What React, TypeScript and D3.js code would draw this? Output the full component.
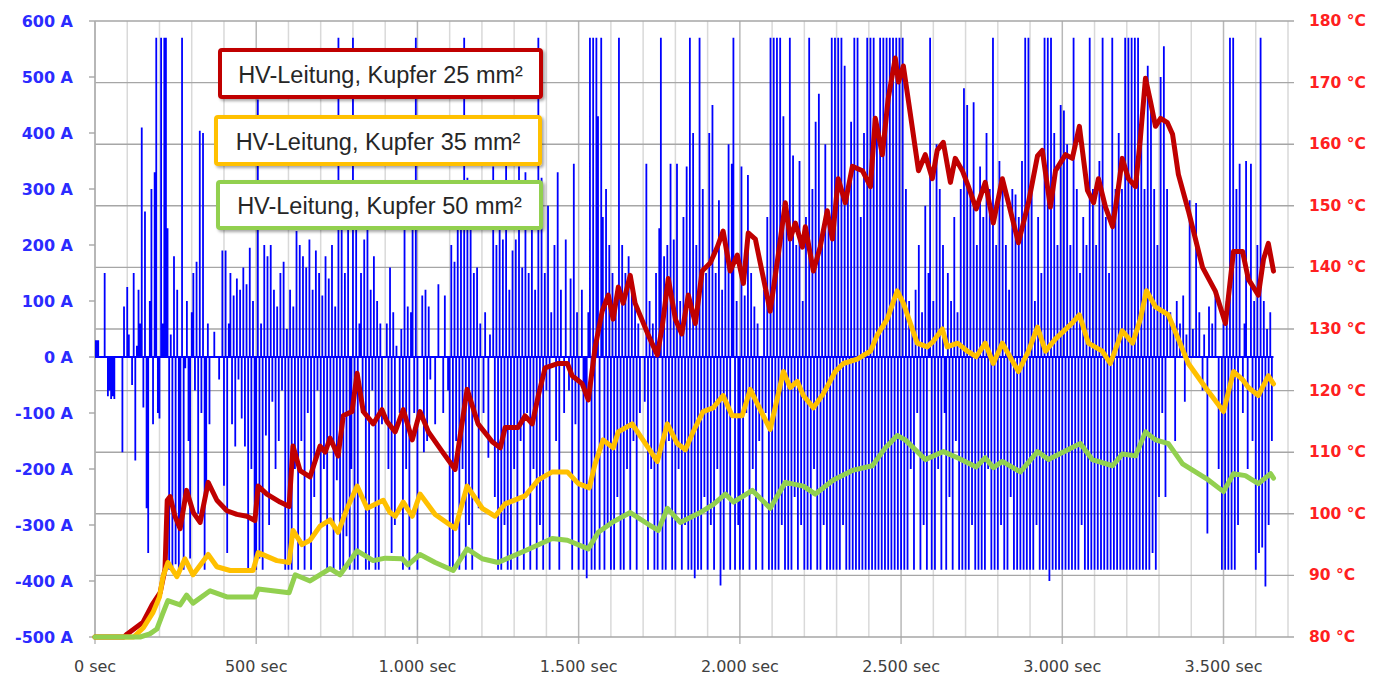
import React, { useEffect } from 'react';
import * as d3 from 'd3';

// ---------- DATA ----------
const timeTicks = [0, 500, 1000, 1500, 2000, 2500, 3000, 3500];
const timeTickLabels = ['0 sec', '500 sec', '1.000 sec', '1.500 sec', '2.000 sec', '2.500 sec', '3.000 sec', '3.500 sec'];
const currentTicks = [-500, -400, -300, -200, -100, 0, 100, 200, 300, 400, 500, 600];
const currentTickLabels = ['-500 A', '-400 A', '-300 A', '-200 A', '-100 A', '0 A', '100 A', '200 A', '300 A', '400 A', '500 A', '600 A'];
const tempTicks = [80, 90, 100, 110, 120, 130, 140, 150, 160, 170, 180];
const tempTickLabels = ['80 °C', '90 °C', '100 °C', '110 °C', '120 °C', '130 °C', '140 °C', '150 °C', '160 °C', '170 °C', '180 °C'];

const seriesLabels = ['HV-Leitung, Kupfer 25 mm²', 'HV-Leitung, Kupfer 35 mm²', 'HV-Leitung, Kupfer 50 mm²'];

// current samples (A), one every 5 s, starting at 0 s
const currentStepSec = 5;
const currentValues = [
  30, 30, 30, 0, 0, 0, 150, 0, -70, -60, -75, -70, -75, 0, 0, 0, 0, -170, 90, 0,
  125, 40, 0, -50, 150, -185, 20, 120, 60, 410, -90, 260, -270, -350, 100, 300, -120, 330, 570, -100,
  -110, 570, 60, 570, 570, 230, -380, 40, -380, 180, -370, 120, -380, -300, 570, -380, -20, 100, -150, -360,
  80, 150, -60, 170, -280, 404, -100, 400, -380, -250, 60, -120, 0, 0, 45, 0, 0, -40, 0, 190,
  -230, 190, -350, 60, 150, -120, 110, -160, 140, -40, 120, -110, 160, -160, 130, -380, 195, -200, 100, -380,
  -380, 460, -360, 60, -380, 200, -140, 180, -300, 200, -80, 120, -200, 90, -150, 150, -60, 170, -380, 50,
  -380, 120, -380, 90, -200, 225, -380, 200, -150, 180, -380, 160, -100, 210, -380, 120, -250, 190, -60, 150,
  -300, 110, -200, 180, -380, 140, -150, 200, -380, 90, -220, 570, -380, 260, -380, 150, -320, 300, -380, -200,
  570, -380, 240, -380, 60, 150, -100, 210, -380, 230, -380, 120, -60, 180, -380, 100, -380, 60, -120, 0,
  0, 60, -200, 160, -350, 80, -300, 20, 0, -100, 50, -380, 250, -200, 90, -380, 80, 270, -100, 570,
  -380, 0, 0, 110, -170, 120, -150, 90, -40, 0, 0, -120, 0, 130, 0, 0, -100, 110, 0, -60,
  -380, 200, -380, 170, -150, 240, -380, 300, -200, 570, -380, 320, -300, 230, -380, 150, -100, 160, -270, 60,
  0, -100, 80, 0, -180, 40, 0, 340, -250, 200, -380, 280, -380, 210, -300, 350, -380, 120, -380, 190,
  -200, 210, -380, 340, -150, 160, -380, 330, -100, 150, -380, 250, -200, 120, -380, 570, -300, 320, -380, 150,
  -60, 270, -380, 80, 0, 200, -150, 330, -380, 120, 0, -100, 210, 0, -60, 140, -380, 345, -120, 80,
  -380, 0, 120, -380, -60, -395, 80, 570, -380, 570, -380, 570, 430, -380, 570, 250, -380, 300, -300, 200,
  -380, 150, -380, 100, -250, 570, -380, 200, -380, 150, -200, 180, -380, 120, -150, 100, -380, 60, -100, 0,
  0, -80, 345, -380, 100, -200, 60, -380, 150, -380, 230, 570, -380, 180, -380, 200, -150, 345, -380, 210,
  -380, 345, -200, 100, -380, 250, -300, 340, -380, 570, -380, 400, -395, 200, -380, 570, -380, 300, -250, 150,
  -380, 400, -300, 450, -380, 150, -200, 280, -408, 120, -380, 200, -250, 380, -380, 345, 570, -380, 100, -300,
  -380, 340, -380, 110, -100, 325, -380, 150, -200, 90, -380, 60, -150, 0, -380, 120, -100, 250, -380, 570,
  -380, 570, -380, 570, -380, 570, -300, 430, -380, 260, -380, 570, -380, 360, -250, 200, -380, 350, -300, 100,
  -380, 250, -380, 570, -380, 300, -200, 420, -380, 470, -380, 200, -300, 380, -380, 250, -380, 570, -380, 570,
  -380, 570, -380, 570, -300, 520, -380, 300, -380, 420, -380, 570, -380, 570, -380, 250, -380, 400, -380, 570,
  -380, 570, -380, 570, -380, 400, -380, 570, -380, 570, -380, 570, -380, 570, -380, 570, -380, 570, -380, 570,
  -380, 570, -380, 300, -380, 100, -200, 50, -380, 120, -100, 200, -380, 80, -300, 270, -380, 150, 570, -380,
  100, -380, 380, -200, 300, -380, 200, -100, -380, 150, -250, 100, -380, 250, -150, 80, -380, 300, -380, 480,
  -380, 450, -380, 300, -300, 455, -380, 200, -380, 340, -380, 250, -380, 400, -200, 300, -380, 570, -380, 200,
  -380, 350, -300, 320, -380, 200, -380, 120, -250, 300, -380, 290, -380, 250, -380, 350, -380, 570, -380, 570,
  -380, 300, -380, 100, -300, 250, -380, 150, -380, 570, -380, 570, -400, 570, -380, 400, -380, 200, -380, 450,
  -380, 440, -380, 380, -380, 200, -380, 570, -380, 300, -380, 150, -300, 250, -380, 200, -380, 570, -380, 300,
  -380, 200, -380, 350, -380, 570, -380, 250, -380, 150, -380, 570, -380, 300, -380, 400, -380, 300, -380, 570,
  -380, 570, -380, 570, -380, 570, -380, 570, -380, 400, -380, 300, -380, 520, -380, 450, -350, 300, -380, 200,
  -250, 500, -100, 555, -250, 300, 0, 80, 0, 60, -150, 100, 0, 60, 0, 110, -80, 40, 0, 280,
  0, 50, 0, 275, 0, 80, 0, -60, 40, 0, -315, 90, 0, 60, 0, 110, 0, -200, 0, -380,
  60, -380, 100, -380, 570, -380, 570, -380, 300, -300, 345, 0, -100, 60, 350, -200, 0, 345, -150, 100,
  -380, 200, -350, 570, -340, 100, -410, 50, -300, 80, -150, 0,
];

// Temperature, 25 mm² (red)
const red25Times = [0, 90, 100, 149, 177, 202, 217, 224, 233, 248, 264, 284, 305, 326, 351, 378, 409, 440, 471, 496, 506, 533, 574, 602, 614, 636, 667, 698, 714, 729, 754, 770, 797, 813, 832, 863, 890, 905, 931, 956, 984, 1008, 1034, 1077, 1117, 1154, 1188, 1232, 1257, 1272, 1312, 1334, 1356, 1375, 1396, 1437, 1465, 1480, 1511, 1530, 1551, 1573, 1592, 1607, 1623, 1638, 1660, 1675, 1716, 1744, 1759, 1778, 1800, 1820, 1840, 1862, 1883, 1908, 1930, 1948, 1970, 1992, 2011, 2026, 2048, 2094, 2119, 2141, 2156, 2172, 2194, 2203, 2228, 2249, 2271, 2287, 2305, 2327, 2349, 2380, 2405, 2420, 2442, 2460, 2482, 2492, 2507, 2529, 2554, 2575, 2597, 2612, 2631, 2653, 2668, 2690, 2709, 2733, 2761, 2786, 2814, 2864, 2895, 2923, 2938, 2963, 2979, 3010, 3031, 3053, 3078, 3097, 3112, 3134, 3156, 3171, 3186, 3205, 3227, 3242, 3258, 3274, 3289, 3305, 3326, 3342, 3360, 3391, 3435, 3475, 3506, 3531, 3559, 3577, 3608, 3624, 3639, 3655];
const red25Temps = [80, 80, 80.5, 82.4, 85.2, 87.2, 91, 102.2, 102.8, 99.6, 97.6, 103.8, 100.2, 98.6, 105.1, 102.2, 100.5, 99.9, 99.6, 98.9, 104.5, 103.2, 101.9, 101.2, 111, 107, 106, 111, 110, 112.3, 109.4, 115.9, 116.6, 122.8, 116.6, 114.6, 116.9, 115, 113.3, 116.9, 112, 116.6, 113.3, 110.1, 107.2, 120.2, 114.6, 111.7, 110.7, 114, 114, 115.9, 114.6, 119.2, 123.7, 124.4, 124.4, 122.4, 121.1, 118.5, 127, 132.9, 135.5, 131.6, 136.8, 134.2, 138.7, 134.2, 129, 125.8, 130.3, 138.2, 131.6, 129.2, 135.5, 130.9, 139.4, 140.7, 143.3, 145.9, 139.4, 142, 137.4, 145.6, 144.6, 132.9, 142, 150.5, 144.6, 147.2, 143.3, 146.6, 139.4, 143.3, 149.2, 144.6, 154.4, 150.5, 156.4, 155.7, 153.1, 164.2, 158.3, 167.4, 174, 170.1, 172.7, 164.8, 155.7, 158.3, 154.4, 159, 160.3, 153.8, 157.7, 155.7, 153.1, 149.5, 153.8, 147.2, 154.4, 144, 150.5, 158.1, 159, 149.8, 155.7, 158.3, 157.7, 162.9, 152.5, 150.5, 154.4, 149.8, 146.6, 151.8, 157.7, 154.4, 153.1, 160.9, 170.7, 166.8, 162.9, 164.2, 163.5, 161.6, 155.1, 149.2, 140, 136.1, 130.9, 142.6, 142.6, 138.1, 135.5, 141.3, 143.9, 139.4];

// Temperature, 35 mm² (orange)
const orange35Times = [0, 120, 150, 180, 200, 211, 226, 254, 279, 304, 351, 378, 419, 490, 506, 564, 602, 614, 642, 667, 698, 729, 754, 782, 813, 844, 894, 915, 931, 956, 984, 1008, 1055, 1117, 1154, 1201, 1241, 1272, 1334, 1375, 1418, 1465, 1499, 1533, 1551, 1576, 1607, 1623, 1666, 1716, 1744, 1775, 1806, 1831, 1855, 1886, 1917, 1948, 1976, 2007, 2032, 2094, 2135, 2156, 2178, 2197, 2228, 2259, 2296, 2321, 2364, 2405, 2426, 2457, 2488, 2507, 2550, 2581, 2600, 2628, 2643, 2675, 2706, 2733, 2761, 2786, 2814, 2864, 2895, 2923, 2948, 2979, 3031, 3053, 3081, 3124, 3149, 3186, 3218, 3242, 3261, 3289, 3329, 3391, 3444, 3500, 3531, 3559, 3577, 3608, 3639, 3655];
const orange35Temps = [80, 80, 81.5, 84, 86.5, 89.8, 92.1, 89.8, 92.7, 90.1, 93.4, 91.4, 90.8, 90.8, 93.7, 92.4, 92.1, 97.3, 95, 95.7, 98, 99, 97, 100.9, 104.5, 100.9, 102.2, 100.2, 99.6, 101.9, 99.6, 103.2, 99.9, 97.6, 104.5, 100.9, 99.6, 101.6, 102.9, 105.5, 106.8, 106.8, 104.9, 104.2, 108.1, 112, 110.7, 113.3, 114.6, 110.7, 108.5, 114.6, 111.4, 110.4, 113.3, 116.6, 117.2, 119.2, 115.9, 115.9, 120.2, 113.7, 123.1, 120.5, 121.5, 119.2, 117.2, 119.5, 123.1, 124.4, 125.1, 126.4, 129, 131.6, 136.2, 134.2, 127.7, 127.1, 128, 130, 127.1, 127.7, 126.4, 125.5, 127.7, 124.4, 127.7, 123.1, 126.4, 130.3, 126.4, 128.4, 131, 132.3, 127.7, 126.4, 124.4, 129.7, 127.7, 131.6, 136.2, 133.6, 132.3, 124.4, 120.5, 116.6, 123.1, 121.8, 120.5, 119.2, 122.4, 121.1];

// Temperature, 50 mm² (green)
const green50Times = [0, 140, 170, 192, 211, 226, 264, 284, 304, 357, 409, 496, 506, 602, 621, 667, 729, 760, 813, 863, 900, 953, 971, 1008, 1055, 1111, 1154, 1201, 1250, 1334, 1418, 1465, 1530, 1561, 1604, 1660, 1716, 1747, 1775, 1815, 1877, 1917, 1955, 1980, 2039, 2094, 2141, 2197, 2234, 2290, 2352, 2411, 2451, 2488, 2513, 2575, 2631, 2675, 2733, 2761, 2786, 2814, 2870, 2923, 2957, 3056, 3093, 3156, 3186, 3227, 3258, 3289, 3329, 3373, 3453, 3500, 3531, 3568, 3608, 3646, 3655];
const green50Temps = [80, 80, 80.5, 81.3, 83.9, 85.9, 85.2, 86.8, 85.5, 87.5, 86.5, 86.5, 87.8, 87.2, 90.1, 89.1, 91.1, 90.1, 94, 92.4, 92.8, 92.7, 91.7, 93.4, 92.1, 90.8, 94.3, 92.7, 92.1, 94, 96, 95.7, 94.3, 97, 98.6, 100.2, 98.3, 97.3, 100.9, 98.6, 100.2, 101.5, 103.2, 101.9, 103.8, 100.9, 105.1, 104.5, 103.2, 105.5, 107.1, 107.8, 110.7, 112.7, 112, 108.8, 110.1, 109.1, 107.6, 109.1, 107.5, 108.5, 106.8, 110.1, 108.8, 111.4, 108.8, 107.8, 109.7, 109.4, 113.3, 112, 111.4, 108.1, 105.5, 103.6, 106.5, 106.2, 104.9, 106.5, 105.8];

// ---------- STYLE ----------
const COLORS = { current: '#0000ff', red: '#c00000', orange: '#ffc000', green: '#92d050' };

export default function App() {
  useEffect(() => {
    document.body.style.margin = '0';
  }, []);

  const left = 95, right = 1288, top = 21, bottom = 637;
  const x = d3.scaleLinear().domain([0, 3700]).range([left, right]);
  const yA = d3.scaleLinear().domain([-500, 600]).range([bottom, top]);
  const yT = d3.scaleLinear().domain([80, 180]).range([bottom, top]);

  // current as stems from 0 plus baseline
  const stemPts: [number, number][] = [];
  currentValues.forEach((v, i) => {
    const t = i * currentStepSec;
    stemPts.push([t, 0], [t, v], [t, 0]);
  });
  const currentLine = d3.line<[number, number]>().x(d => x(d[0])).y(d => yA(d[1]));
  const currentPath = currentLine(stemPts) || '';

  const tLine = d3.line<[number, number]>().x(d => x(d[0])).y(d => yT(d[1])).curve(d3.curveLinear);
  const mk = (ts: number[], vs: number[]) => tLine(ts.map((t, i) => [t, vs[i]] as [number, number])) || '';
  const series = [
    { label: seriesLabels[0], color: COLORS.red, path: mk(red25Times, red25Temps) },
    { label: seriesLabels[1], color: COLORS.orange, path: mk(orange35Times, orange35Temps) },
    { label: seriesLabels[2], color: COLORS.green, path: mk(green50Times, green50Temps) },
  ];

  const minorX = d3.range(0, 3701, 100);
  const legendBoxes = [
    { x: 220, y: 50, w: 321, h: 47 },
    { x: 216, y: 117, w: 324, h: 47 },
    { x: 218, y: 182, w: 323, h: 46 },
  ];

  return (
    <svg width={1381} height={677} style={{ position: 'absolute', left: 0, top: 0, background: '#fff' }}
      fontFamily="'DejaVu Sans', sans-serif">
      <defs>
        <filter id="shadow" x="-10%" y="-30%" width="130%" height="170%">
          <feDropShadow dx="2" dy="2" stdDeviation="1.5" floodColor="#000" floodOpacity="0.35" />
        </filter>
        <clipPath id="plotClip">
          <rect x={left} y={top - 2} width={right - left} height={bottom - top + 4} />
        </clipPath>
      </defs>
      <rect x={0} y={0} width={1381} height={677} fill="#fff" />

      {/* vertical gridlines */}
      {minorX.map(t => (
        <line key={'vx' + t} x1={x(t)} x2={x(t)} y1={top} y2={t % 500 === 0 ? bottom + 7 : bottom}
          stroke={t % 500 === 0 ? '#b8b8b8' : '#d9d9d9'} strokeWidth={1.5} />
      ))}
      {/* horizontal gridlines (right axis) */}
      {tempTicks.map(v => (
        <line key={'hz' + v} x1={left} x2={right + 6} y1={yT(v)} y2={yT(v)} stroke="#a6a6a6" strokeWidth={1.4} />
      ))}
      {/* left axis */}
      <line x1={left} x2={left} y1={top} y2={bottom} stroke="#b0b0b0" strokeWidth={1.5} />
      {currentTicks.map(v => (
        <line key={'lt' + v} x1={left - 6} x2={left} y1={yA(v)} y2={yA(v)} stroke="#a6a6a6" strokeWidth={1.4} />
      ))}

      {/* current */}
      <g clipPath="url(#plotClip)">
        <path d={currentPath} fill="none" stroke={COLORS.current} strokeWidth={1.8} strokeLinejoin="miter" />
      </g>

      {/* temperatures */}
      {series.map(s => (
        <path key={s.label} d={s.path} fill="none" stroke={s.color} strokeWidth={5}
          strokeLinejoin="round" strokeLinecap="round" />
      ))}

      {/* legend */}
      {series.map((s, i) => {
        const b = legendBoxes[i];
        return (
          <g key={'lg' + i}>
            <rect x={b.x} y={b.y} width={b.w} height={b.h} fill="#fff" stroke={s.color} strokeWidth={4}
              rx={2} filter="url(#shadow)" />
            <text x={b.x + b.w / 2} y={b.y + b.h / 2 + 1} textAnchor="middle" dominantBaseline="central"
              fontFamily="'Liberation Sans', Arial, sans-serif" fontSize={23.5} fill="#262626">{s.label}</text>
          </g>
        );
      })}

      {/* left axis labels */}
      {currentTicks.map((v, i) => (
        <text key={'la' + v} x={73} y={yA(v)} textAnchor="end" dominantBaseline="central"
          fontSize={16} fontWeight="bold" fill="#2b2bff">{currentTickLabels[i]}</text>
      ))}
      {/* right axis labels */}
      {tempTicks.map((v, i) => (
        <text key={'ra' + v} x={1309} y={yT(v)} textAnchor="start" dominantBaseline="central"
          fontSize={15.5} fontWeight="bold" fill="#ff2020">{tempTickLabels[i]}</text>
      ))}
      {/* x axis labels */}
      {timeTicks.map((t, i) => (
        <text key={'xa' + t} x={x(t)} y={666} textAnchor="middle" dominantBaseline="central"
          fontSize={16} fill="#404040">{timeTickLabels[i]}</text>
      ))}
    </svg>
  );
}
